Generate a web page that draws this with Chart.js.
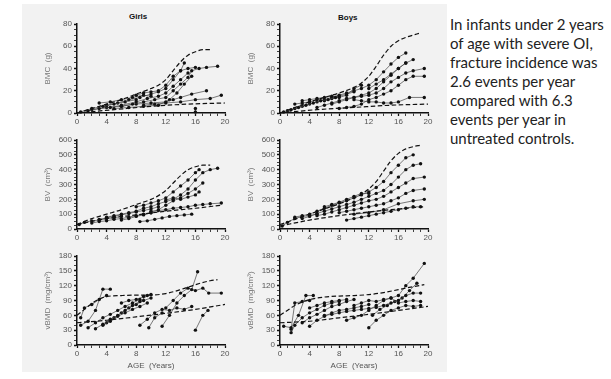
<!DOCTYPE html>
<html>
<head>
<meta charset="utf-8">
<script src="https://cdn.jsdelivr.net/npm/chart.js@4.4.0/dist/chart.umd.min.js"></script>
<style>
body{margin:0;background:#fff;width:611px;height:379px;overflow:hidden;position:relative}
#fig{position:absolute;left:22px;top:4px;width:425px;height:368px;background:#f2f2f2}
canvas{position:absolute;filter:blur(0.3px)}
.ttl{position:absolute;font:bold 8px 'Liberation Sans',Arial,sans-serif;color:#111}
#note{position:absolute;left:450px;top:15px;font:15px Lato,sans-serif;line-height:19px;color:#222;white-space:nowrap}
</style>
</head>
<body>
<div id="fig"></div>
<div class="ttl" style="left:129px;top:12px">Girls</div>
<div class="ttl" style="left:338px;top:13px">Boys</div>
<canvas id="gBmc" width="190" height="113" style="left:43px;top:14px"></canvas>
<canvas id="bBmc" width="190" height="113" style="left:246px;top:14px"></canvas>
<canvas id="gBv" width="190" height="113" style="left:43px;top:130px"></canvas>
<canvas id="bBv" width="190" height="113" style="left:246px;top:130px"></canvas>
<canvas id="gVbmd" width="190" height="124" style="left:43px;top:246px"></canvas>
<canvas id="bVbmd" width="190" height="124" style="left:246px;top:246px"></canvas>
<div id="note">In infants under 2 years<br>of age with severe OI,<br>fracture incidence was<br>2.6 events per year<br>compared with 6.3<br>events per year in<br>untreated controls.</div>
<script>
// ---- data: [age (years), value] ----
const ageTicks = [0,4,8,12,16,20];

// BMC (g)
const girlsBmcUpper = [[0,0],[2,4],[4,8],[6,12],[8,17],[10,22],[11,25],[12,30],[13,38],[14,46],[15,52],[16,55],[17,57],[18,57]];
const girlsBmcLower = [[0,0],[5,3],[10,6],[15,8],[20,9]];
const girlsBmcTracks = [
  [[0.5,1],[2,4],[3.5,6],[5,8],[6.5,10],[8,12]],
  [[1.5,2],[3,4],[4.5,5],[6,7],[8,10],[9.5,13],[11,15],[12,18],[13,24],[14,30],[15,36]],
  [[4,7],[5.5,9],[7,12],[8.5,14],[10,17],[11,19],[12,22],[13,30],[14,38],[14.5,45]],
  [[6,6],[7.5,8],[9,10],[10.5,12],[12,14],[13,20],[14,26],[15,32],[15.5,38],[16.5,40],[17.5,41],[19,42]],
  [[8,16],[9,18],[10,19],[11,20],[12,25],[13,33],[14,38],[15,40],[16,41]],
  [[2,3],[4,5],[6,6],[8,8],[10,9],[12,10],[13,12],[14,14],[15.5,17],[17.5,20]],
  [[9,7],[10.5,8],[12,9],[14,10],[16,12],[18,13],[19.5,16]],
  [[5,4],[7,5],[9,6],[11,7],[12.5,12],[13.5,18],[14.5,26],[15.5,33]],
  [[16,1],[16,4]],
  [[3,9],[4.5,10],[6,12],[7.5,14],[9,16],[10,15]]
];
const boysBmcUpper = [[0,0],[2,5],[4,10],[6,14],[8,18],[10,23],[11,27],[12,33],[13,42],[14,52],[15,60],[16,65],[17,68],[18,70],[19,72]];
const boysBmcLower = [[0,0],[5,3],[10,5],[15,7],[20,8]];
const boysBmcTracks = [
  [[0.5,1],[1.5,3],[2.5,5],[3.5,7],[4.5,9],[5.5,11],[6.5,12],[7.5,14]],
  [[1,2],[2,4],[3,6],[4,8],[5,10],[6,12],[7,14],[8,16],[9,18],[10,20],[11,22],[12,25],[13,30],[14,37],[15,44],[16,50],[17,54]],
  [[3,11],[4,12],[5,13],[6,14],[7,15],[8,15],[9,17],[10,19]],
  [[5,5],[6,7],[7,9],[8,11],[9,13],[10,14],[11,16],[12,18],[13,22],[14,28],[15,34],[16,40],[17,45]],
  [[7,8],[8,10],[9,12],[10,14],[11,15],[12,16],[13,18],[14,22],[15,28],[16,32],[17,36],[18,38],[19.5,40]],
  [[8,4],[9,5],[10,6],[11,8],[12,12],[13,14],[14,17],[15,20],[16,25],[17,30],[18,33],[19.5,33]],
  [[10,12],[11,11],[12,10],[13,10],[14,9],[15,9],[16,10],[17.5,14],[19.5,14]],
  [[2,8],[3,9],[4,10],[5,12],[6,11],[7,13],[8,14],[9,16],[10,22],[11,25]],
  [[12,22],[13,26],[14,30],[15,35],[16,40],[17,45],[18,48]]
];

// BV (cm3)
const girlsBvUpper = [[0,30],[2,70],[4,100],[6,130],[8,165],[10,200],[11,225],[12,260],[13,310],[14,360],[15,400],[16,420],[17,430],[18,430]];
const girlsBvLower = [[0,30],[4,70],[8,95],[12,120],[16,140],[19.5,160]];
const girlsBvTracks = [
  [[0.3,30],[1,45],[2,55],[3,60],[4,70],[5,75],[6,85]],
  [[2,40],[3,50],[4,55],[5,65],[6,70],[7,80],[8,90],[9,100],[10,110]],
  [[4,80],[5,90],[6,100],[7,110],[8,120],[9,140],[10,150],[11,170],[12,185],[13,200],[14,230],[15,270],[16,330],[17,380],[18,400],[19,410]],
  [[6,60],[7,70],[8,85],[9,95],[10,110],[11,130],[12,160],[13,190],[14,210],[15,240],[16,270],[17,310]],
  [[8,150],[9,160],[10,175],[11,190],[12,210],[13,250],[14,290],[15,330],[16,380],[16.5,400]],
  [[8.5,50],[9.5,55],[10.5,65],[11.5,75],[12.5,85],[13.5,90],[14.5,95],[15.5,100]],
  [[10,120],[11,125],[12,130],[13,140],[14,145],[15,150],[16,160],[17,165],[18,170],[19.5,175]],
  [[12,195],[13,210],[14,200],[15,215],[16,230],[16.5,250]],
  [[3,65],[4,75],[5,85],[6,95],[7,105],[8,115],[9,125],[10,135],[11,150]]
];
const boysBvUpper = [[0,30],[2,65],[4,100],[6,135],[8,170],[10,210],[11,235],[12,270],[13,320],[14,390],[15,460],[16,510],[17,540],[18,555],[19,565]];
const boysBvLower = [[0,20],[4,60],[8,90],[12,115],[16,135],[19.5,150]];
const boysBvTracks = [
  [[0.3,20],[1,45],[2,70],[3,85],[4,90],[5,100]],
  [[2,80],[3,90],[4,100],[5,120],[6,140],[7,160],[8,175],[9,190],[10,210],[11,230],[12,250],[13,280],[14,320],[15,380],[16,430],[17,480],[18,500]],
  [[3,70],[4,85],[5,105],[6,120],[7,135],[8,150],[9,165],[10,180],[11,200],[12,220],[13,240],[14,260],[15,300],[16,350],[17,400],[18,430],[19,440]],
  [[5,90],[6,100],[7,115],[8,130],[9,145],[10,160],[11,175],[12,190],[13,200],[14,220],[15,250],[16,280],[17,310],[18,340],[19.5,350]],
  [[6,150],[7,165],[8,180],[9,200],[10,220],[11,240],[12,240]],
  [[8,110],[9,120],[10,130],[11,140],[12,150],[13,160],[14,170],[15,190],[16,210],[17,240],[18,260],[19.5,270]],
  [[9,60],[10,70],[11,80],[12,90],[13,100],[14,110],[15,120],[16,130],[17,140],[18,150],[19,150]],
  [[10,100],[12,110],[14,130],[16,170],[18,190],[19.5,200]]
];

// vBMD (mg/cm3)
const girlsVbmdUpper = [[0,60],[1,72],[2,84],[3,93],[4,98],[6,100],[8,101],[10,101],[12,104],[14,112],[16,122],[18,130],[19,132]];
const girlsVbmdLower = [[0,45],[4,50],[8,57],[12,64],[16,72],[20,82]];
const girlsVbmdTracks = [
  [[0.5,55],[1,75],[2,82],[3,92],[4,100]],
  [[0.5,40],[1.5,48],[2.5,70],[3.5,113],[4.5,113]],
  [[1.5,35],[2.5,45],[3.5,55],[4.5,62],[5.5,70],[6.5,78],[7.5,85],[8.5,92]],
  [[2.5,33],[3.5,42],[4.5,52],[5.5,60],[6.5,70],[7.5,80],[8.5,88],[9.5,100]],
  [[3.5,40],[4.5,48],[5.5,58],[6.5,65],[7.5,72],[8.5,78],[9.5,85]],
  [[4,45],[5,55],[6,65],[7,75],[8,82],[9,90],[10,95]],
  [[8.5,40],[9.5,52],[10.5,65],[11.5,72],[12.5,70],[13.5,75],[14.5,72],[15.5,78]],
  [[9.7,35],[10.5,55],[11.5,65]],
  [[11.5,38],[12.5,60],[13.5,85],[14.5,100],[15.5,112],[16.3,148]],
  [[12,75],[13,90],[14,105],[15,115],[16,110],[17,115],[17.8,105],[19.5,105]],
  [[16,30],[17,60],[17.7,70]],
  [[6,85],[7,90],[8,92],[9,98],[10,102]]
];
const boysVbmdUpper = [[0,60],[1,70],[2,80],[3,87],[4,92],[6,97],[8,99],[10,100],[12,102],[14,106],[16,112],[18,118],[19.5,122]];
const boysVbmdLower = [[0,45],[4,48],[8,55],[12,62],[16,70],[20,78]];
const boysVbmdTracks = [
  [[0.5,38],[1.5,35],[2.5,60],[3.5,100],[4.5,100]],
  [[1.5,25],[2,40],[3,55],[4,65],[5,72],[6,80],[7,85],[8,88]],
  [[1.5,32],[2,85],[3,88],[4,90]],
  [[3,45],[4,55],[5,62],[6,70],[7,78],[8,82],[9,88],[10,92]],
  [[4,38],[5,50],[6,58],[7,65],[8,70],[9,72],[10,75],[11,78],[12,82]],
  [[4,75],[5,80],[6,85],[7,88],[8,90],[9,92]],
  [[6,60],[7,62],[8,65],[9,68],[10,70],[11,72],[12,74],[13,76],[14,80],[15,85],[16,90],[17,100],[18,105],[19,105]],
  [[9,50],[10,55],[11,60],[12,70],[13,80],[14,90],[15,95],[16,100],[17,120],[18,135],[19.5,165]],
  [[10,80],[11,85],[12,90],[13,88],[14,92],[15,95],[16,85],[17,88],[18,90],[19,88]],
  [[12,35],[13,50],[14,60],[15,70],[16,75],[17,80],[18,78],[19,80]],
  [[12.5,60],[13.5,72],[14.5,80],[15.5,88],[16.5,95],[17.5,110],[18.5,125]]
];

// ---- helpers ----
const pts = arr => arr.map(p => ({x:p[0], y:p[1]}));

function dashed(arr){
  return { data: pts(arr), showLine:true, borderColor:'#111', borderWidth:1.2, borderDash:[4.5,2.5],
           pointRadius:0, tension:0.4, cubicInterpolationMode:'monotone' };
}
function track(arr){
  return { data: pts(arr), showLine:true, borderColor:'#444', borderWidth:0.7,
           pointRadius:1.7, pointBorderWidth:0, pointBackgroundColor:'#111' };
}

function panel(id, upper, lower, tracks, yMax, yStep, yMajor, yTitle, withAge){
  const ds = [dashed(upper), dashed(lower)].concat(tracks.map(track));
  new Chart(document.getElementById(id), {
    type:'scatter',
    data:{ datasets: ds },
    options:{
      responsive:false, animation:false, clip:false,
      layout:{ padding:{ top:10, right:8, left:0, bottom:0 } },
      plugins:{ legend:{display:false}, tooltip:{enabled:false} },
      scales:{
        x:{
          min:0, max:20,
          afterFit: s => { s.height = withAge ? 25 : 14; },
          border:{ color:'#111', width:1.5 },
          grid:{ drawOnChartArea:false, tickLength:3, color:'#111', tickWidth: c => (c.tick && c.tick.value % 4 === 0) ? 1.3 : 0.8 },
          ticks:{ stepSize:1, autoSkip:false, maxRotation:0, padding:1, color:'#555', font:{size:8, family:'Liberation Sans'},
                  callback: v => ageTicks.includes(v) ? v : '' },
          title:{ display:withAge, text:'AGE  (Years)', color:'#555', font:{size:8, family:'Liberation Sans', lineHeight:1}, padding:{top:-2,bottom:0} }
        },
        y:{
          min:0, max:yMax,
          afterFit: s => { s.width = 34; },
          border:{ color:'#111', width:1.5 },
          grid:{ drawOnChartArea:false, tickLength:3, color:'#111', tickWidth: c => (c.tick && c.tick.value % yMajor === 0) ? 1.3 : 0.8 },
          ticks:{ stepSize:yStep, autoSkip:false, padding:2, color:'#555', font:{size:8, family:'Liberation Sans'},
                  callback: v => (v % yMajor === 0) ? v : '' },
          title:{ display:true, text:yTitle, color:'#777', font:{size:8, family:'Liberation Sans'}, padding:{top:0,bottom:1} }
        }
      }
    }
  });
}

panel('gBmc',  girlsBmcUpper,  girlsBmcLower,  girlsBmcTracks,  80, 5, 20, 'BMC  (g)', false);
panel('bBmc',  boysBmcUpper,   boysBmcLower,   boysBmcTracks,   80, 5, 20, 'BMC  (g)', false);
panel('gBv',   girlsBvUpper,   girlsBvLower,   girlsBvTracks,   600, 25, 100, 'BV  (cm³)', false);
panel('bBv',   boysBvUpper,    boysBvLower,    boysBvTracks,    600, 25, 100, 'BV  (cm³)', false);
panel('gVbmd', girlsVbmdUpper, girlsVbmdLower, girlsVbmdTracks, 180, 10, 30, 'vBMD  (mg/cm³)', true);
panel('bVbmd', boysVbmdUpper,  boysVbmdLower,  boysVbmdTracks,  180, 10, 30, 'vBMD  (mg/cm³)', true);
</script>
</body>
</html>
